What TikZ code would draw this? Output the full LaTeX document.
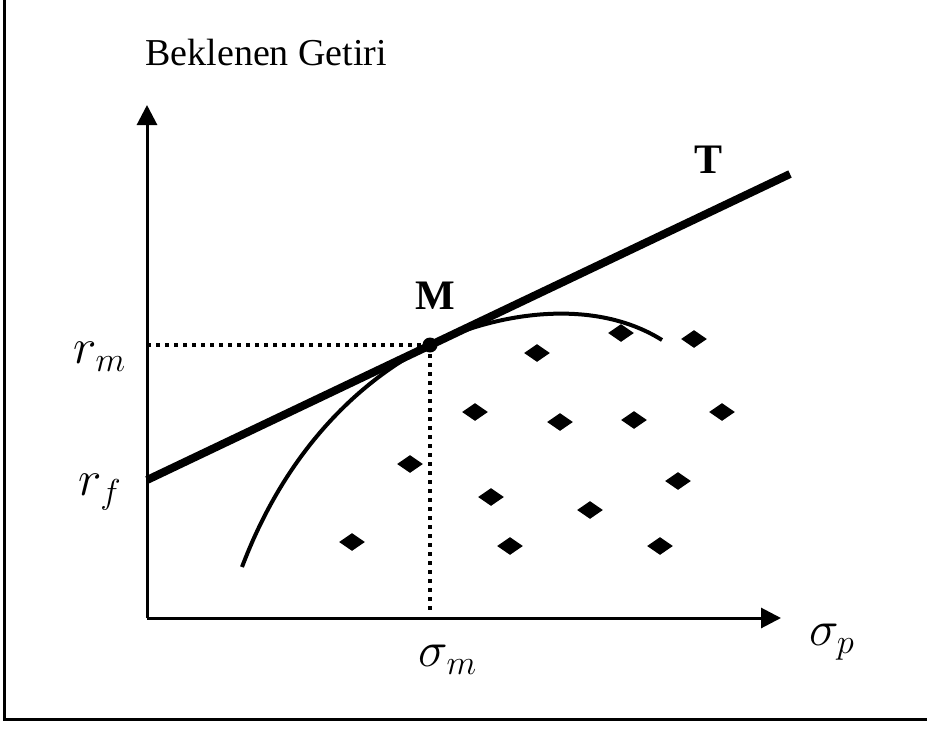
\documentclass[tikz,border=0pt]{standalone}
\usepackage{fontspec}
\setmainfont{Liberation Serif}
\usetikzlibrary{arrows.meta, shapes.geometric, positioning}
\tikzset{
    eksen/.style={line width=1.5pt, -{Triangle[length=10pt, width=10pt]}},
    teget/.style={line width=4pt},
    egri/.style={line width=2pt},
    noktali/.style={line width=2pt, dash pattern=on 2pt off 2.5pt},
    elmas/.style={diamond, fill=black, inner sep=0pt, minimum width=13pt, minimum height=9pt},
    etiket/.style={font=\fontsize{19}{23}\selectfont, inner sep=0pt},
    matetiket/.style={font=\fontsize{23}{27}\selectfont, inner sep=0pt},
    harf/.style={font=\fontsize{21}{25}\selectfont\bfseries, inner sep=0pt},
}

\begin{document}
\begin{tikzpicture}[x=0.5pt, y=-0.5pt]
\useasboundingbox (0,0) rectangle (927,729);
% cerceve
\draw[line width=1.5pt] (4,0) -- (4,719) -- (927,719);
% eksenler
\coordinate (O) at (147,618);
\coordinate (ytop) at (147,105);
\coordinate (xtop) at (781,618);
\draw[eksen] (O) -- (ytop);
\draw[eksen] (O) -- (xtop);
% teget dogru ve egri
\node[circle, fill=black, inner sep=0pt, minimum size=7.5pt] (M) at (430,345) {};
\coordinate (rf) at (147,480);
\coordinate (Tend) at (790,174);
\draw[teget] (rf) -- (Tend);
\coordinate (c0) at (242,567);
\coordinate (c1) at (662,340);
\draw[egri] (c0) .. controls (290,440) and (370,375) .. (M.center)
    .. controls (490,315) and (590,295) .. (c1);
\draw[noktali] (M.center) -- (M.center -| O);
\draw[noktali, shorten >=3pt] (M.center) -- (M.center |- O);
% portfoyler
\foreach \x/\y [count=\i] in {537/353, 621/333, 694/339, 475/412, 560/422, 634/420, 722/412,
    410/464, 491/497, 678/481, 590/510, 352/542, 510/546, 660/546} {
    \node[elmas] (d\i) at (\x,\y) {};
}
% etiketler
\node[etiket, anchor=west] (baslik) at (145,52) {Beklenen Getiri};
\node[matetiket] (rm) at (100,357) {$r_m$};
\node[matetiket] (rfl) at (100,492) {$r_f$};
\node[matetiket] (sm) at (448,660) {$\sigma_m$};
\node[matetiket] (sp) at (832,642) {$\sigma_p$};
\node[harf] (Ml) at (435,296) {M};
\node[harf] (Tl) at (708,160) {T};
\end{tikzpicture}
\end{document}
